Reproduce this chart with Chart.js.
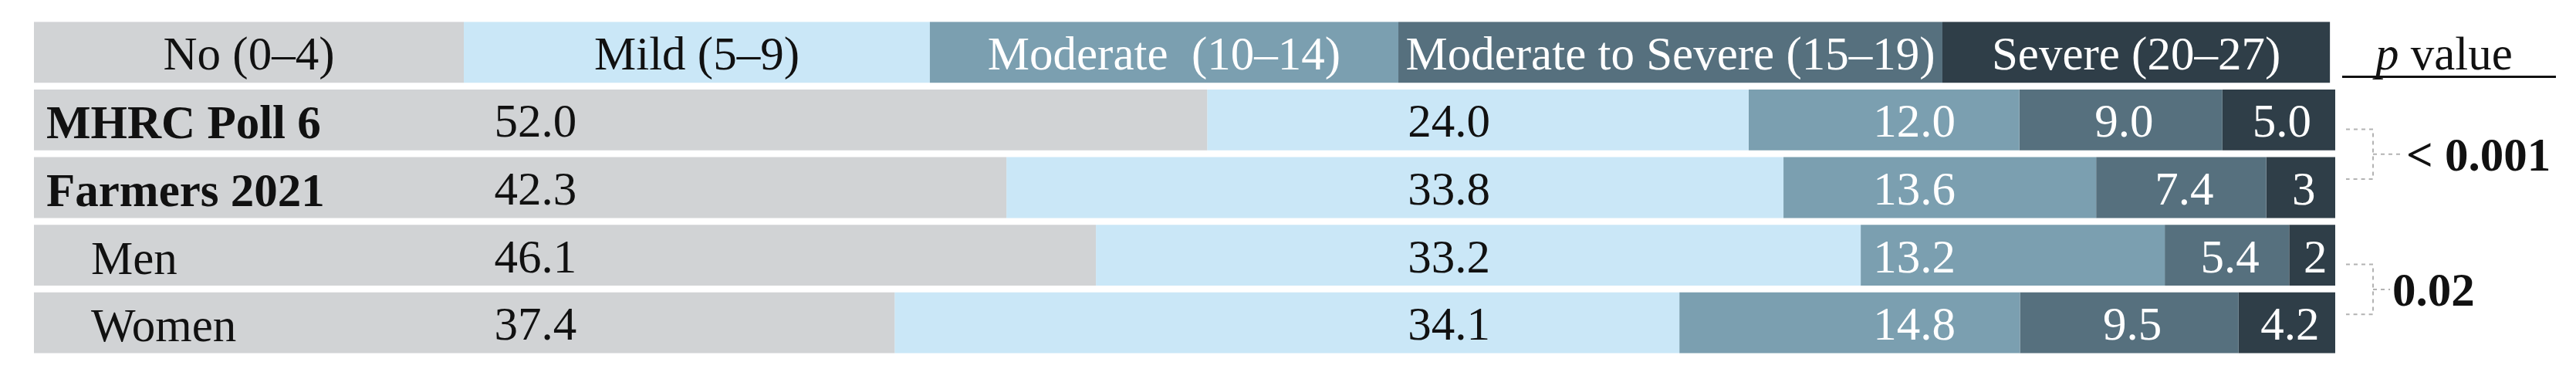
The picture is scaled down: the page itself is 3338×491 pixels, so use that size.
<!DOCTYPE html>
<html>
<head>
<meta charset="utf-8">
<script src="https://cdn.jsdelivr.net/npm/chart.js@4.4.0/dist/chart.umd.min.js"></script>
<style>
  html, body { margin: 0; padding: 0; background: #fff; }
  #chart { display: block; }
</style>
</head>
<body>
<canvas id="chart" width="3338" height="491"></canvas>
<script>
// rows of the chart
const groups = ['MHRC Poll 6', 'Farmers 2021', 'Men', 'Women'];

// depression levels (legend row on top)
const levels = ['No (0\u20134)', 'Mild (5\u20139)', 'Moderate  (10\u201314)', 'Moderate to Severe (15\u201319)', 'Severe (20\u201327)'];

// percentages as printed in the figure
const noDepression = ['52.0', '42.3', '46.1', '37.4'];
const mild = ['24.0', '33.8', '33.2', '34.1'];
const moderate = ['12.0', '13.6', '13.2', '14.8'];
const modSevere = ['9.0', '7.4', '5.4', '9.5'];
const severe = ['5.0', '3', '2', '4.2'];

const pValues = ['< 0.001', '0.02'];

const series = [noDepression, mild, moderate, modSevere, severe];
const colors = ['#d1d3d5', '#cae7f7', '#7b9fb0', '#56707e', '#2f3e48'];
const textColors = ['#111', '#111', '#fff', '#fff', '#fff'];

// every bar is drawn as share of its row total
const rowTotals = groups.map((g, i) => series.reduce((s, arr) => s + Number(arr[i]), 0));

const FONT = "'Liberation Serif', 'DejaVu Serif', serif";

const overlay = {
    id: 'overlay',
    afterDatasetsDraw(chart) {
        const ctx = chart.ctx;
        const x = chart.scales.x;
        const y = chart.scales.y;
        const barH = chart.getDatasetMeta(0).data[1].height;

        ctx.save();

        // legend row drawn as a bar of its own
        const bounds = [0, 18.68, 38.93, 59.29, 82.93, 99.77];
        const yc0 = y.getPixelForValue(0);
        ctx.font = '61px ' + FONT;
        ctx.textAlign = 'center';
        ctx.textBaseline = 'alphabetic';
        levels.forEach((lvl, k) => {
            const x0 = x.getPixelForValue(bounds[k]);
            const x1 = x.getPixelForValue(bounds[k + 1]);
            ctx.fillStyle = colors[k];
            ctx.fillRect(x0, yc0 - barH / 2, x1 - x0, barH);
            ctx.fillStyle = textColors[k];
            ctx.fillText(lvl, (x0 + x1) / 2, yc0 + 22);
        });

        // row labels
        ctx.textAlign = 'left';
        ctx.fillStyle = '#111';
        groups.forEach((g, i) => {
            const yc = y.getPixelForValue(i + 1);
            const sub = i >= 2;
            ctx.font = (sub ? '' : 'bold ') + '61px ' + FONT;
            ctx.fillText(g, sub ? 118 : 60, yc + 24);
        });

        // value labels
        const place = [['left', 20.0], ['left', 59.7], ['right', 83.5], ['center', 0], ['center', 0]];
        ctx.font = '61px ' + FONT;
        series.forEach((arr, k) => {
            const meta = chart.getDatasetMeta(k);
            arr.forEach((txt, i) => {
                const bar = meta.data[i + 1];
                const yc = y.getPixelForValue(i + 1);
                let tx;
                if (place[k][0] === 'center') {
                    ctx.textAlign = 'center';
                    tx = (bar.base + bar.x) / 2 + 4;
                } else {
                    ctx.textAlign = place[k][0];
                    tx = x.getPixelForValue(place[k][1]);
                }
                ctx.fillStyle = textColors[k];
                ctx.fillText(txt, tx, yc + 22);
            });
        });

        // p value column
        const right = x.getPixelForValue(100);
        ctx.fillStyle = '#111';
        ctx.textAlign = 'left';
        ctx.font = 'italic 61px ' + FONT;
        ctx.fillText('p', right + 52, 90);
        const pw = ctx.measureText('p ').width;
        ctx.font = '61px ' + FONT;
        ctx.fillText('value', right + 52 + pw, 90);
        ctx.fillRect(right + 9, 98, 277, 3);

        pValues.forEach((pv, j) => {
            const yTop = y.getPixelForValue(2 * j + 1) + 12;
            const yBot = y.getPixelForValue(2 * j + 2) - 11;
            const yMid = (yTop + yBot) / 2;
            const xv = right + 49;
            ctx.strokeStyle = '#b3b3b3';
            ctx.lineWidth = 2;
            ctx.setLineDash([5, 5]);
            ctx.beginPath();
            ctx.moveTo(right + 14, yTop); ctx.lineTo(xv, yTop); ctx.lineTo(xv, yBot); ctx.lineTo(right + 14, yBot);
            ctx.moveTo(xv, yMid); ctx.lineTo(xv + (j === 0 ? 38 : 22), yMid);
            ctx.stroke();
            ctx.setLineDash([]);
            ctx.font = 'bold 61px ' + FONT;
            ctx.fillText(pv, j === 0 ? right + 92 : right + 74, yMid + 21);
        });

        ctx.restore();
    }
};

new Chart(document.getElementById('chart'), {
    type: 'bar',
    data: {
        labels: [''].concat(groups),
        datasets: series.map((arr, k) => ({
            label: levels[k],
            data: [null].concat(arr.map((v, i) => Number(v) / rowTotals[i] * 100)),
            backgroundColor: colors[k],
            borderWidth: 0,
            barPercentage: 0.9,
            categoryPercentage: 1.0
        }))
    },
    options: {
        indexAxis: 'y',
        responsive: false,
        animation: false,
        devicePixelRatio: 1,
        layout: { padding: { left: 44, right: 312, top: 24, bottom: 29 } },
        scales: {
            x: { stacked: true, min: 0, max: 100, display: false },
            y: { stacked: true, display: false }
        },
        plugins: {
            legend: { display: false },
            tooltip: { enabled: false }
        }
    },
    plugins: [overlay]
});
</script>
</body>
</html>
